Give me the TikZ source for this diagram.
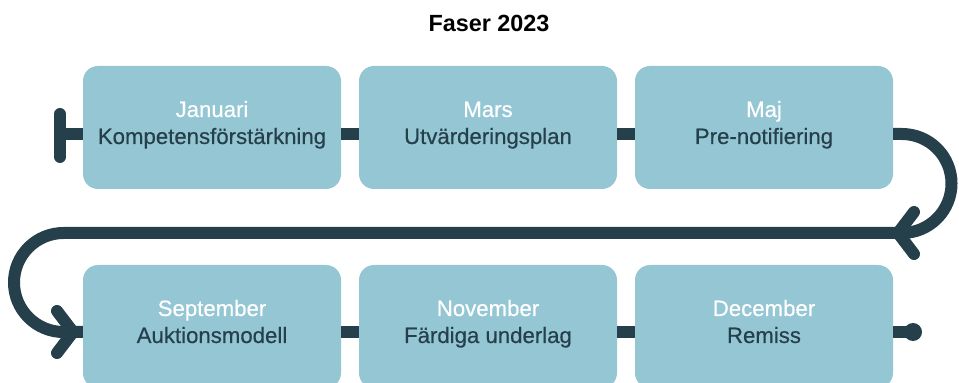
\documentclass[tikz,border=0pt]{standalone}
\usepackage{fontspec}
\setmainfont{Liberation Sans}
\definecolor{dark}{HTML}{253F4B}
\definecolor{boxc}{HTML}{95C6D4}
\begin{document}
\begin{tikzpicture}[x=1pt,y=1pt,
  box/.style={rounded corners=15pt, fill=boxc, minimum width=258pt, minimum height=123pt, inner sep=0pt},
  conn/.style={line width=12pt, draw=dark},
  capline/.style={line width=12pt, draw=dark, line cap=round, line join=round},
  month/.style={text=white, font=\fontsize{22.2}{26}\selectfont\addfontfeatures{FakeBold=0.4}, anchor=base, inner sep=0pt},
  phase/.style={text=dark, font=\fontsize{22.2}{26}\selectfont\addfontfeatures{FakeBold=0.4}, anchor=base, inner sep=0pt}]
\useasboundingbox (0,0) rectangle (959,383);
\node[font=\bfseries\fontsize{23.4}{27}\selectfont, anchor=base, inner sep=0pt] (title) at (489,351) {Faser 2023};
% boxes
\node[box] (b1) at (212,255.5) {};
\node[box] (b2) at (488,255.5) {};
\node[box] (b3) at (764,255.5) {};
\node[box] (b4) at (212,56.5) {};
\node[box] (b5) at (488,56.5) {};
\node[box] (b6) at (764,56.5) {};
% texts
\node[month] (t1) at ([yshift=10.5pt]b1.center) {Januari};
\node[phase] (s1) at ([yshift=-16.5pt]b1.center) {Kompetensförstärkning};
\node[month] (t2) at ([yshift=10.5pt]b2.center) {Mars};
\node[phase] (s2) at ([yshift=-16.5pt]b2.center) {Utvärderingsplan};
\node[month] (t3) at ([yshift=10.5pt]b3.center) {Maj};
\node[phase] (s3) at ([yshift=-16.5pt]b3.center) {Pre-notifiering};
\node[month] (t4) at ([yshift=10.5pt]b4.center) {September};
\node[phase] (s4) at ([yshift=-16.5pt]b4.center) {Auktionsmodell};
\node[month] (t5) at ([yshift=10.5pt]b5.center) {November};
\node[phase] (s5) at ([yshift=-16.5pt]b5.center) {Färdiga underlag};
\node[month] (t6) at ([yshift=10.5pt]b6.center) {December};
\node[phase] (s6) at ([yshift=-16.5pt]b6.center) {Remiss};
% coordinates
\coordinate (start) at (60,249);
\coordinate (capt) at (60,269);
\coordinate (capb) at (60,226);
\coordinate (r1) at (902,249);
\coordinate (l1) at (63.5,150);
\coordinate (bot) at (63.5,51);
\coordinate (end) at (913,51);
\coordinate (tipR) at (898,150);
\coordinate (armR1) at (914,171);
\coordinate (armR2) at (914,129);
\coordinate (tipL) at (73,51);
\coordinate (armL1) at (57,72);
\coordinate (armL2) at (57,30);
% connectors top row
\draw[capline] (capt) -- (capb);
\draw[conn] (start) -- (b1.west |- start);
\draw[conn] (b1.east |- start) -- (b2.west |- start);
\draw[conn] (b2.east |- start) -- (b3.west |- start);
% return path
\draw[conn] (b3.east |- start) -- (r1) arc[start angle=90, end angle=-90, radius=49.5pt] -- (l1) arc[start angle=90, end angle=270, radius=49.5pt] -- (b4.west |- bot);
\draw[capline] (armR1) -- (tipR) -- (armR2);
\draw[capline] (armL1) -- (tipL) -- (armL2);
% bottom row
\draw[conn] (b4.east |- bot) -- (b5.west |- bot);
\draw[conn] (b5.east |- bot) -- (b6.west |- bot);
\draw[conn] (b6.east |- bot) -- (end);
\fill[dark] (end) circle[radius=9pt];
\end{tikzpicture}
\end{document}
